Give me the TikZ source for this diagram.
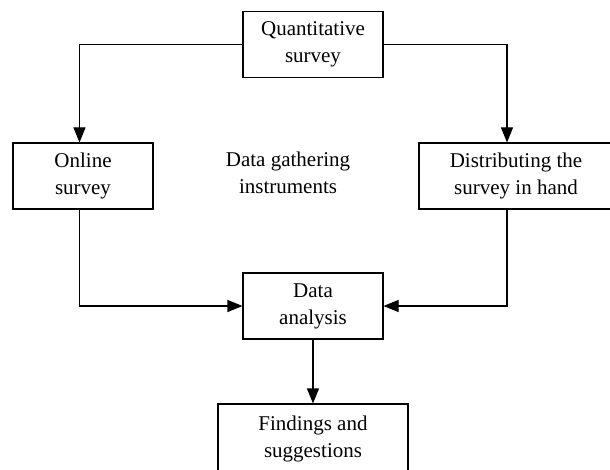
\documentclass[tikz,border=0pt]{standalone}
\usepackage{fontspec}
\setmainfont{Liberation Serif}
\usetikzlibrary{arrows.meta}
\tikzset{
  stepbox/.style={draw, line width=1.1pt, align=center, inner sep=2pt,
    minimum width=140pt, minimum height=66pt,
    font=\fontsize{21}{27}\selectfont},
  flow/.style={line width=1.1pt, -{Triangle[length=15pt,width=12pt]}}
}
\begin{document}
\begin{tikzpicture}[x=1pt, y=1pt]
    \useasboundingbox (0, 0) rectangle (610, 469);
    \node[stepbox] (quant) at (313, 424.5) {Quantitative\\survey};
    \node[stepbox] (online) at (83, 293) {Online\\survey};
    \node[stepbox, minimum width=194pt] (distrib) at (516, 293) {Distributing the\\survey in hand};
    \node[font=\fontsize{21}{27}\selectfont, align=center] (instr) at (288, 296) {Data gathering\\instruments};
    \node[stepbox] (analysis) at (313, 163) {Data\\analysis};
    \node[stepbox, minimum width=190pt, minimum height=70pt] (findings) at (313, 30) {Findings and\\suggestions};

    \draw[flow] (quant.west) -| ([xshift=-3.5pt]online.north);
    \draw[flow] (quant.east) -| ([xshift=-9pt]distrib.north);
    \draw[flow] ([xshift=-3.5pt]online.south) |- (analysis.west);
    \draw[flow] ([xshift=-9pt]distrib.south) |- (analysis.east);
    \draw[flow] (analysis) -- (findings);
\end{tikzpicture}
\end{document}
